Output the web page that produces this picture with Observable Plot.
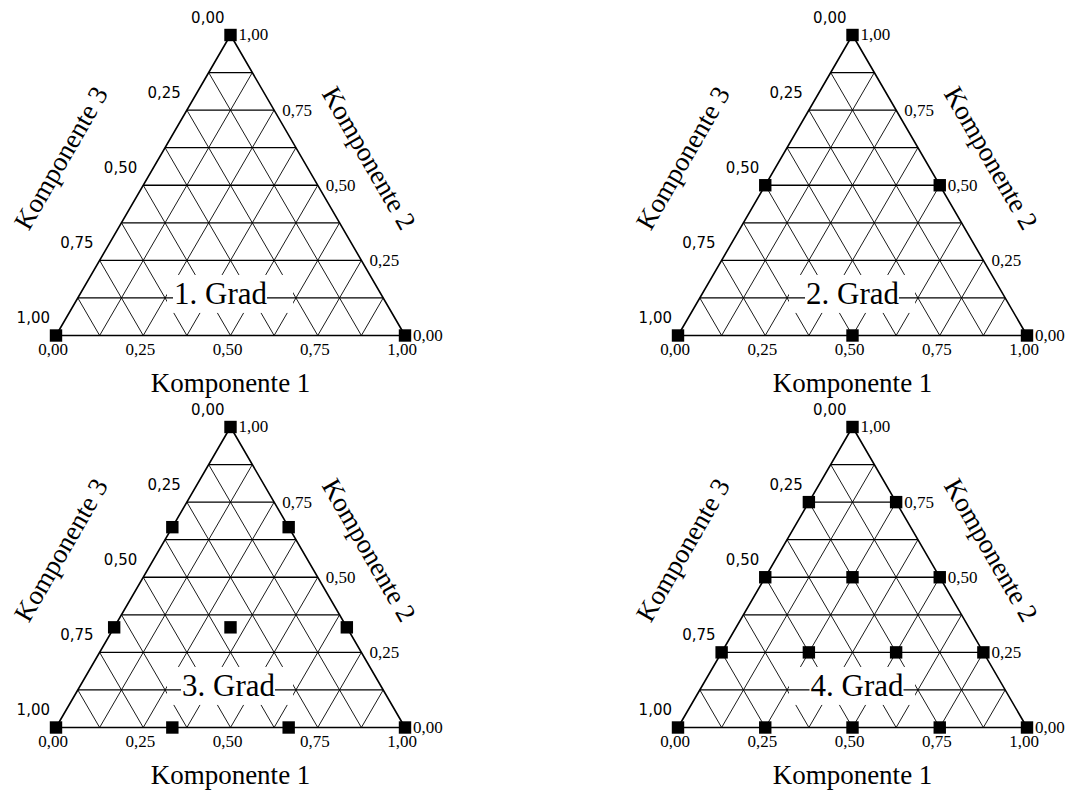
<!DOCTYPE html>
<html>
<head>
<meta charset="utf-8">
<script src="https://cdn.jsdelivr.net/npm/d3@7"></script>
<script src="https://cdn.jsdelivr.net/npm/@observablehq/plot@0.6"></script>
<style>
  html, body { margin: 0; padding: 0; background: #fff; }
  #chart { position: relative; width: 1065px; height: 791px; overflow: hidden; }
</style>
</head>
<body>
<div id="chart"></div>
<script>
// Simplex-lattice designs for a three-component mixture, degree 1 to 4.
// Each design point is a composition [Komponente 1, Komponente 2, Komponente 3].
const grad1 = [[0, 0, 1], [1, 0, 0], [0, 1, 0]];
const grad2 = [
  [0, 0, 1], [0.5, 0, 0.5], [1, 0, 0],
  [0.5, 0.5, 0], [0, 1, 0], [0, 0.5, 0.5]
];
const grad3 = [
  [0, 0, 1], [1/3, 0, 2/3], [2/3, 0, 1/3], [1, 0, 0],
  [2/3, 1/3, 0], [1/3, 2/3, 0], [0, 1, 0],
  [0, 2/3, 1/3], [0, 1/3, 2/3], [1/3, 1/3, 1/3]
];
const grad4 = [
  [0, 0, 1], [0.25, 0, 0.75], [0.5, 0, 0.5], [0.75, 0, 0.25], [1, 0, 0],
  [0, 0.25, 0.75], [0.25, 0.25, 0.5], [0.5, 0.25, 0.25], [0.75, 0.25, 0],
  [0, 0.5, 0.5], [0.25, 0.5, 0.25], [0.5, 0.5, 0],
  [0, 0.75, 0.25], [0.25, 0.75, 0],
  [0, 1, 0]
];
const designs = [grad1, grad2, grad3, grad4];
const gradLabels = ["1. Grad", "2. Grad", "3. Grad", "4. Grad"];
const axisTitles = ["Komponente 1", "Komponente 2", "Komponente 3"];
const tickValues = [0, 0.25, 0.5, 0.75, 1];
const gridLevels = [0.125, 0.25, 0.375, 0.5, 0.625, 0.75, 0.875];
// composition at which each degree label sits (centre of the lowest grid row)
const labelAt = [7/16, 1/8, 7/16];

// Page placement of the four panels and the horizontal nudge of each label
const panels = [
  {left: 0,   top: 0,   width: 532, height: 392, triLeft: 55.5,  labelShift: -10},
  {left: 532, top: 0,   width: 533, height: 392, triLeft: 145.5, labelShift: 0},
  {left: 0,   top: 392, width: 532, height: 399, triLeft: 55.5,  labelShift: -2},
  {left: 532, top: 392, width: 533, height: 399, triLeft: 145.5, labelShift: 4.5}
];
const side = 349, triBottom = 335, triTop = 34.5;

const serif = "Liberation Serif, Times New Roman, serif";
const sans = "DejaVu Sans, Verdana, sans-serif";
const fmt = v => d3.format(".2f")(v).replace(".", ",");

// ternary composition -> plane: x runs along the base, y is the share of Komponente 2
const toXY = ([k1, k2]) => ({x: k1 + k2 / 2, y: k2});
const seg = (a, b) => { const p = toXY(a), q = toXY(b); return {x1: p.x, y1: p.y, x2: q.x, y2: q.y}; };

const horizontals = gridLevels.map(t => seg([0, t, 1 - t], [1 - t, t, 0]));
const diagonals = gridLevels.flatMap(t => [
  seg([t, 0, 1 - t], [t, 1 - t, 0]),
  seg([1 - t, 0, t], [0, 1 - t, t])
]);
const outline = [[0, 0, 1], [1, 0, 0], [0, 1, 0]].map(toXY);

const bottomTicks = tickValues.map(v => ({...toXY([v, 0, 1 - v]), label: fmt(v)}));
const rightTicks = tickValues.map(v => ({...toXY([1 - v, v, 0]), label: fmt(v)}));
const leftTicks = tickValues.map(v => ({...toXY([0, 1 - v, v]), label: fmt(v)}));

const chart = document.getElementById("chart");

panels.forEach((p, i) => {
  const anchor = [{...toXY(labelAt), label: gradLabels[i]}];
  const pts = designs[i].map(toXY);
  const svg = Plot.plot({
    width: p.width,
    height: p.height,
    x: {domain: [0, 1], range: [p.triLeft, p.triLeft + side], axis: null},
    y: {domain: [0, 1], range: [triBottom, triTop], axis: null},
    style: {
      position: "absolute", left: p.left + "px", top: p.top + "px",
      overflow: "visible", background: "none", maxWidth: "none"
    },
    marks: [
      Plot.link(diagonals, {x1: "x1", y1: "y1", x2: "x2", y2: "y2", stroke: "#000", strokeWidth: 0.9}),
      // clearing behind the degree label
      Plot.rect(anchor, {x1: "x", x2: "x", y1: "y", y2: "y", fill: "#fff",
        insetLeft: -63, insetRight: -63, insetTop: -22.5, insetBottom: -15.5}),
      Plot.link(horizontals, {x1: "x1", y1: "y1", x2: "x2", y2: "y2", stroke: "#000", strokeWidth: 1.3}),
      Plot.line(outline, {x: "x", y: "y", curve: "linear-closed", stroke: "#000", strokeWidth: 1.6}),
      Plot.rect(anchor, {x1: "x", x2: "x", y1: "y", y2: "y", fill: "#fff", dx: p.labelShift,
        insetLeft: -47, insetRight: -47, insetTop: -16.5, insetBottom: -6.5}),
      Plot.text(anchor, {x: "x", y: "y", text: "label", dx: p.labelShift, dy: -4,
        fontFamily: serif, fontSize: 31, fill: "#000", lineAnchor: "middle"}),
      // Komponente 1 along the base
      Plot.text(bottomTicks, {x: "x", y: "y", text: "label", dx: -3, dy: 14,
        fontFamily: serif, fontSize: 17, fill: "#000", lineAnchor: "middle"}),
      // Komponente 2 along the right edge
      Plot.text(rightTicks, {x: "x", y: "y", text: "label", dx: 8, dy: 0,
        fontFamily: serif, fontSize: 17, fill: "#000", textAnchor: "start", lineAnchor: "middle"}),
      // Komponente 3 along the left edge
      Plot.text(leftTicks, {x: "x", y: "y", text: "label", dx: -6, dy: -17,
        fontFamily: sans, fontSize: 15, fill: "#000", textAnchor: "end", lineAnchor: "middle"}),
      Plot.text([{...toXY([0.5, 0, 0.5]), t: axisTitles[0]}], {x: "x", y: "y", text: "t", dy: 48,
        fontFamily: serif, fontSize: 27, fill: "#000", lineAnchor: "middle"}),
      Plot.text([{...toXY([0.5, 0.5, 0]), t: axisTitles[1]}], {x: "x", y: "y", text: "t", dx: 51, dy: -27,
        rotate: 60, fontFamily: serif, fontSize: 27, fill: "#000", lineAnchor: "middle"}),
      Plot.text([{...toXY([0, 0.5, 0.5]), t: axisTitles[2]}], {x: "x", y: "y", text: "t", dx: -82, dy: -27,
        rotate: -60, fontFamily: serif, fontSize: 27, fill: "#000", lineAnchor: "middle"}),
      Plot.dot(pts, {x: "x", y: "y", symbol: "square", r: 7, fill: "#000", stroke: "none"})
    ]
  });
  chart.appendChild(svg);
});
</script>
</body>
</html>
